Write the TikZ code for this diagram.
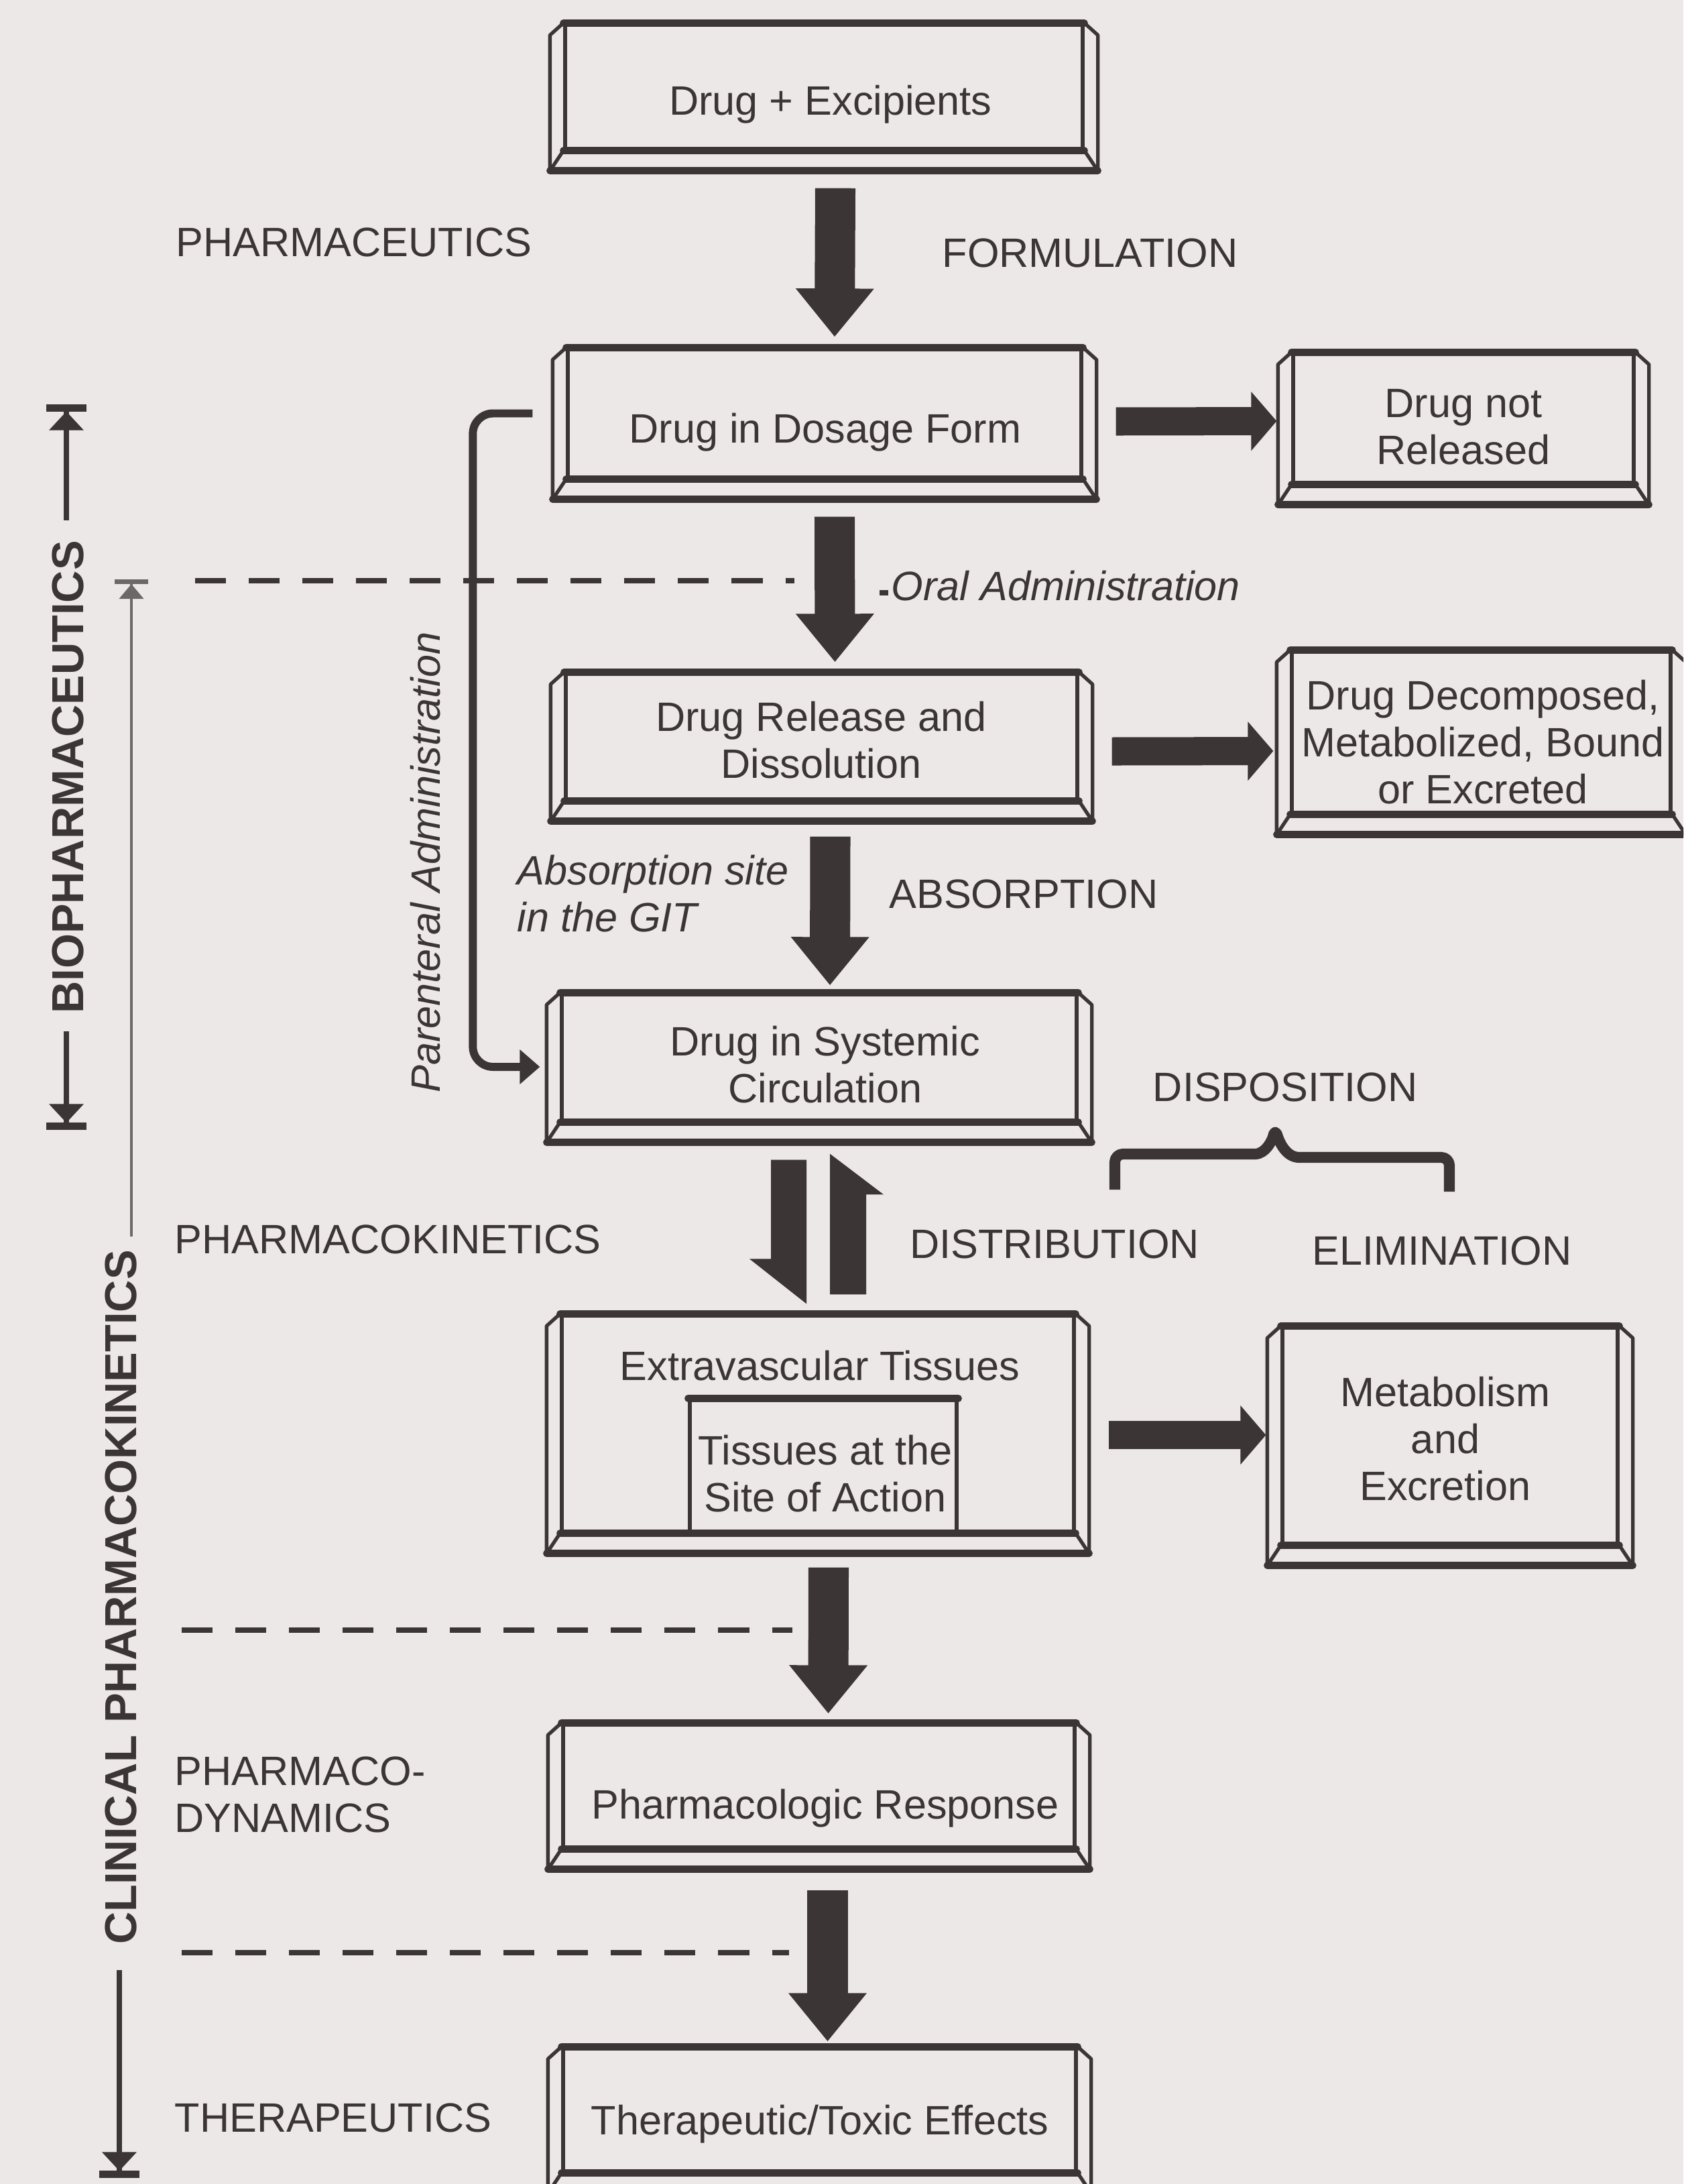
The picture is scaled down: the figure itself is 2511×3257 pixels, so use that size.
\documentclass[tikz,border=0pt]{standalone}
\usepackage{fontspec}
\setmainfont{Liberation Sans}
\usetikzlibrary{arrows.meta,calc,fit}
\definecolor{ink}{HTML}{3B3536}
\definecolor{paper}{HTML}{EBE8E7}

% a bevelled slab: front face node #1 spanning corners #2 and #3
\newcommand\drawslab[3]{%
  \node[face, fit={#2 #3}] (#1) {};
  \draw[edge] (#1.north west) -- ++(-20,18) -- ($(#1.south west)+(-20,30)$)
     -- ($(#1.south east)+(20,30)$) -- ($(#1.north east)+(20,18)$) -- (#1.north east);
  \draw[edge] (#1.south west) -- ++(-20,30) (#1.south east) -- ++(20,30);
  \draw[heavy] (#1.north west) -- (#1.north east);
  \draw[heavy] (#1.south west) -- (#1.south east);
  \draw[heavy] ($(#1.south west)+(-20,30)$) -- ($(#1.south east)+(20,30)$);
}

\begin{document}
\begin{tikzpicture}[x=0.01cm,y=-0.01cm,
  every node/.style={text=ink, font=\fontsize{17.4pt}{19.9pt}\selectfont, inner sep=0pt},
  face/.style={draw=ink, line width=1.5pt, inner sep=0pt},
  edge/.style={draw=ink, line width=1.5pt, line join=round},
  heavy/.style={draw=ink, line width=3pt, line cap=round},
  vbig/.style={draw=ink, line width=0.6cm, -{Triangle[length=0.72cm,width=1.12cm]}},
  hbig/.style={draw=ink, line width=0.42cm, -{Triangle[length=0.38cm,width=0.86cm]}},
  stage/.style={draw=ink, line width=2.2pt, dash pattern=on 0.46cm off 0.34cm},
  para/.style={draw=ink, line width=3.4pt, rounded corners=0.3cm, -{Triangle[length=0.3cm,width=0.5cm]}},
  sidelabel/.style={font=\bfseries\fontsize{19pt}{22pt}\selectfont, rotate=90},
  sidearr/.style={draw=ink, line width=2.2pt, -{Triangle[length=0.28cm,width=0.5cm]Bar[width=0.6cm,line width=3pt]}},
  thinarr/.style={draw=ink!75, line width=1.2pt, -{Triangle[length=0.22cm,width=0.36cm]Bar[width=0.5cm,line width=2pt]}},
  slanted/.style={font=\itshape\fontsize{17.4pt}{19.9pt}\selectfont},
]
\useasboundingbox (0,0) rectangle (2511,3257);
\fill[paper] (0,0) rectangle (2511,3257);
\clip (0,0) rectangle (2511,3257);

% ---------- boxes ----------
\drawslab{A}{(843,37)}{(1615,222)}
\drawslab{B}{(847,521)}{(1613,712)}
\drawslab{C}{(1929,528)}{(2437,720)}
\drawslab{D}{(844,1005)}{(1607,1192)}
\drawslab{E}{(1927,972)}{(2492,1212)}
\drawslab{F}{(838,1483)}{(1606,1671)}
\drawslab{G}{(838,1962)}{(1602,2284)}
\drawslab{H}{(1913,1980)}{(2413,2302)}
\drawslab{I}{(840,2572)}{(1603,2755)}
\drawslab{J}{(840,3055)}{(1605,3238)}
% inner compartment of the tissue box
\node[face, fit={(1029,2088) (1427,2284)}] (sitebox) {};
\draw[heavy] (sitebox.north west) -- (sitebox.north east);

% ---------- box texts ----------
\node (tA) at (1239,156) {Drug + Excipients};
\node (tB) at (1231,645) {Drug in Dosage Form};
\node[align=center] (tC) at (2183,637) {Drug not\\Released};
\node[align=center] (tD) at (1225,1104) {Drug Release and\\Dissolution};
\node[align=center] (tE) at (2212,1107) {Drug Decomposed,\\Metabolized, Bound\\or Excreted};
\node[align=center] (tF) at (1231,1588) {Drug in Systemic\\Circulation};
\node (tG) at (1223,2037) {Extravascular Tissues};
\node[align=center] (tSite) at (1231,2198) {Tissues at the\\Site of Action};
\node[align=center] (tH) at (2156,2146) {Metabolism\\and\\Excretion};
\node (tI) at (1231,2697) {Pharmacologic Response};
\node (tJ) at (1223,3168) {Therapeutic/Toxic Effects};

% ---------- stage labels ----------
\node (pharmaceutics) at (528,361) {PHARMACEUTICS};
\node (formulation) at (1626,377) {FORMULATION};
\node[slanted, anchor=west] (oral) at (1329,874) {Oral Administration};
\node[slanted, rotate=90] (parent) at (635,1286) {Parenteral Administration};
\node[slanted, align=left, anchor=west] (gitsite) at (771,1333) {Absorption site\\in the GIT};
\node (absorption) at (1527,1333) {ABSORPTION};
\node (disposition) at (1917,1621) {DISPOSITION};
\node[anchor=west] (pk) at (260,1848) {PHARMACOKINETICS};
\node (distribution) at (1573,1855) {DISTRIBUTION};
\node (elimination) at (2151,1865) {ELIMINATION};
\node[align=left, anchor=west] (pd) at (260,2676) {PHARMACO-\\DYNAMICS};
\node[anchor=west] (thera) at (260,3158) {THERAPEUTICS};

% ---------- dashed stage boundaries ----------
\draw[stage] (291,866) -- (1185,866);
\draw[draw=ink, line width=2pt] (1312,884) -- (1325,884);
\draw[stage] (271,2431) -- (1182,2431);
\draw[stage] (271,2912) -- (1177,2912);

% ---------- main flow ----------
\draw[vbig] ($(A.south)+(17,56)$) -- ($(B.north)+(15,-16)$);
\draw[vbig] ($(B.south)+(15,56)$) -- ($(D.north)+(20,-15)$);
\draw[vbig] ($(D.south)+(13,53)$) -- ($(F.north)+(16,-11)$);
\draw[vbig] ($(G.south)+(16,51)$) -- ($(I.north)+(14,-14)$);
\draw[vbig] ($(I.south)+(13,61)$) -- ($(J.north)+(12,-8)$);

\draw[hbig] ($(B.east)+(49,12)$) -- ($(C.west)+(-22,4)$);
\draw[hbig] ($(D.east)+(49,22)$) -- ($(E.west)+(-25,28)$);
\draw[hbig] ($(G.east)+(49,17)$) -- ($(H.west)+(-22,-1)$);

% half-headed arrows between circulation and tissues
\fill[ink] ($(F.south)+(-72,56)$) -- ($(F.south)+(-19,56)$) -- ($(G.north)+(-17,-15)$)
  -- ($(G.north)+(-102,-82)$) -- ($(G.north)+(-70,-82)$) -- cycle;
\fill[ink] ($(G.north)+(18,-29)$) -- ($(G.north)+(72,-29)$) -- ($(G.north)+(72,-178)$)
  -- ($(G.north)+(98,-178)$) -- ($(F.south)+(16,47)$) -- cycle;

% parenteral route
\draw[para] ($(B.west)+(-50,0)$) -| ($(F.west)+(-130,14)$) -- ($(F.west)+(-30,14)$);

% disposition brace
\draw[draw=ink, line width=4.6pt, line join=round, rounded corners=0.12cm]
  (1663,1774) -- (1663,1721) -- (1860,1721)
  .. controls (1888,1721) and (1898,1700) .. (1902,1682)
  .. controls (1908,1702) and (1918,1726) .. (1950,1726)
  -- (2162,1726) -- (2162,1777);

% ---------- side spans ----------
\node[sidelabel] (bio) at (101,1159) {BIOPHARMACEUTICS};
\coordinate (biotop) at (99,603);
\coordinate (biobot) at (99,1685);
\draw[sidearr] ($(bio.east)+(-2,-30)$) -- (biotop);
\draw[sidearr] ($(bio.west)+(-2,26)$) -- (biobot);

\node[sidelabel] (clin) at (180,2382) {CLINICAL PHARMACOKINETICS};
\coordinate (clintop) at (196,864);
\coordinate (clinbot) at (178,3248);
\draw[thinarr] ($(clin.east)+(16,-20)$) -- (clintop);
\draw[sidearr] ($(clin.west)+(-2,37)$) -- (clinbot);
\end{tikzpicture}
\end{document}
